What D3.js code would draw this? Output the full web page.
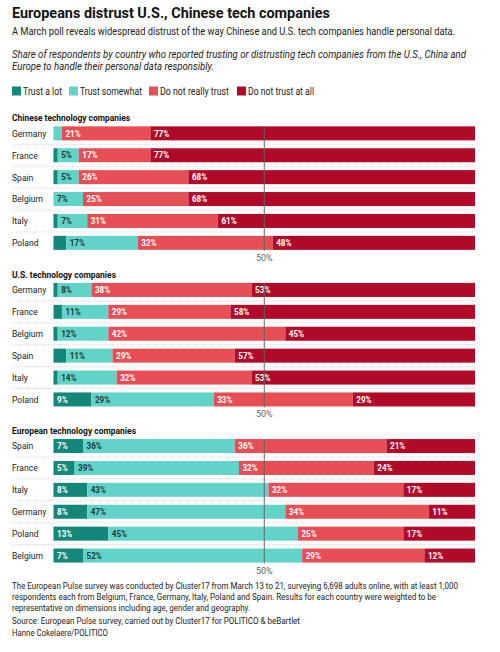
<!DOCTYPE html>
<html>
<head>
<meta charset="utf-8">
<script src="https://cdn.jsdelivr.net/npm/d3@7"></script>
<style>
  body { margin: 0; background: #fff; }
  svg { display: block; font-family: Roboto, "Noto Sans", sans-serif; }
</style>
</head>
<body>
<svg></svg>
<script>
const width = 500;
const height = 652;

// series
const categories = ["Trust a lot", "Trust somewhat", "Do not really trust", "Do not trust at all"];

// Chinese technology companies
const chinaCountries = ["Germany", "France", "Spain", "Belgium", "Italy", "Poland"];
const chinaLot = [0, 1, 1, 0, 1, 3];
const chinaSomewhat = [2, 5, 5, 7, 7, 17];
const chinaNotReally = [21, 17, 26, 25, 31, 32];
const chinaNotAtAll = [77, 77, 68, 68, 61, 48];

// U.S. technology companies
const usCountries = ["Germany", "France", "Belgium", "Spain", "Italy", "Poland"];
const usLot = [1, 2, 1, 3, 1, 9];
const usSomewhat = [8, 11, 12, 11, 14, 29];
const usNotReally = [38, 29, 42, 29, 32, 33];
const usNotAtAll = [53, 58, 45, 57, 53, 29];

// European technology companies
const euCountries = ["Spain", "France", "Italy", "Germany", "Poland", "Belgium"];
const euLot = [7, 5, 8, 8, 13, 7];
const euSomewhat = [36, 39, 43, 47, 45, 52];
const euNotReally = [36, 32, 32, 34, 25, 29];
const euNotAtAll = [21, 24, 17, 11, 17, 12];

const xTicks = [50];

const colors = ["#12877a", "#62d3c8", "#e84f55", "#b10a29"];
const labelColors = ["#fff", "#1d3b38", "#fff", "#fff"];

const panels = [
  { title: "Chinese technology companies", countries: chinaCountries, series: [chinaLot, chinaSomewhat, chinaNotReally, chinaNotAtAll] },
  { title: "U.S. technology companies", countries: usCountries, series: [usLot, usSomewhat, usNotReally, usNotAtAll] },
  { title: "European technology companies", countries: euCountries, series: [euLot, euSomewhat, euNotReally, euNotAtAll] }
];

// the original uses a narrow face, so squeeze the text a bit
function condense(sel, f) {
  sel.each(function() {
    const w = this.getComputedTextLength();
    d3.select(this).attr("textLength", w * f).attr("lengthAdjust", "spacingAndGlyphs");
  });
}
function fit(sel, w) {
  sel.attr("textLength", w).attr("lengthAdjust", "spacingAndGlyphs");
}

const svg = d3.select("svg")
    .attr("width", width)
    .attr("height", height);

const left = 12;

// header
svg.append("text")
    .attr("x", left).attr("y", 17.5)
    .attr("font-size", 15.5).attr("font-weight", "bold").attr("fill", "#111")
    .text("Europeans distrust U.S., Chinese tech companies")
    .call(fit, 318);
svg.append("text")
    .attr("x", left).attr("y", 35)
    .attr("font-size", 10).attr("fill", "#222")
    .text("A March poll reveals widespread distrust of the way Chinese and U.S. tech companies handle personal data.")
    .call(fit, 443);
const intro = [
  "Share of respondents by country who reported trusting or distrusting tech companies from the U.S., China and",
  "Europe to handle their personal data responsibly."
];
const introW = [454, 202];
svg.append("g").selectAll("text")
    .data(intro)
    .join("text")
    .attr("x", left).attr("y", (d, i) => 58 + i * 12)
    .attr("font-size", 10).attr("font-style", "italic").attr("fill", "#222")
    .attr("textLength", (d, i) => introW[i]).attr("lengthAdjust", "spacingAndGlyphs")
    .text(d => d);

// legend
const legendX = [12, 69, 149, 237];
const legendW = [39, 62, 69, 66];
const legend = svg.append("g").selectAll("g")
    .data(categories)
    .join("g")
    .attr("transform", (d, i) => `translate(${legendX[i]}, 86.5)`);
legend.append("rect")
    .attr("width", 9).attr("height", 9)
    .attr("fill", (d, i) => colors[i]);
legend.append("text")
    .attr("x", 11).attr("y", 8)
    .attr("font-size", 10).attr("fill", "#222")
    .attr("textLength", (d, i) => legendW[i]).attr("lengthAdjust", "spacingAndGlyphs")
    .text(d => d);

const xScale = d3.scaleLinear()
    .domain([0, 100])
    .range([53.5, 475]);

const rowStep = 21.9;
const panelTop = [122.4, 279.0, 435.1];
const titleW = [118, 104, 124];

panels.forEach((p, pi) => {
  const top = panelTop[pi];
  const yScale = d3.scaleBand()
      .domain(p.countries)
      .range([top, top + rowStep * p.countries.length])
      .paddingInner(0.36)
      .paddingOuter(0.18);

  const g = svg.append("g");

  g.append("text")
      .attr("x", left).attr("y", top - 1.5)
      .attr("font-size", 9.5).attr("font-weight", "bold").attr("fill", "#111")
      .text(p.title)
      .call(fit, titleW[pi]);

  // dotted separators between rows
  g.selectAll("line.sep")
      .data(p.countries.slice(1))
      .join("line")
      .attr("class", "sep")
      .attr("x1", left).attr("x2", 475)
      .attr("y1", d => yScale(d) - yScale.step() * yScale.paddingInner() / 2)
      .attr("y2", d => yScale(d) - yScale.step() * yScale.paddingInner() / 2)
      .attr("stroke", "#d9d9d9").attr("stroke-dasharray", "1,1");

  g.selectAll("text.country")
      .data(p.countries)
      .join("text")
      .attr("class", "country")
      .attr("x", left)
      .attr("y", d => yScale(d) + yScale.bandwidth() / 2 + 3.4)
      .attr("font-size", 9.5).attr("fill", "#222")
      .text(d => d)
      .call(condense, 0.9);

  const stacked = d3.stack()
      .keys(d3.range(categories.length))
      .value((d, k) => p.series[k][d])(d3.range(p.countries.length));

  stacked.forEach((layer, k) => {
    const lg = g.append("g");
    lg.selectAll("rect")
        .data(layer)
        .join("rect")
        .attr("x", d => xScale(d[0]))
        .attr("width", d => xScale(d[1]) - xScale(d[0]))
        .attr("y", (d, i) => yScale(p.countries[i]))
        .attr("height", yScale.bandwidth())
        .attr("fill", colors[k]);
    lg.selectAll("text")
        .data(layer.filter(d => d[1] - d[0] >= 5))
        .join("text")
        .attr("x", d => xScale(d[0]) + 3.5)
        .attr("y", d => yScale(p.countries[d.data]) + yScale.bandwidth() / 2 + 3.2)
        .attr("font-size", 9).attr("font-weight", "bold")
        .attr("fill", labelColors[k])
        .text(d => (d[1] - d[0]) + "%")
        .call(condense, 0.9);
  });

  // 50% reference line and label
  const y0 = yScale(p.countries[0]);
  const y1 = yScale(p.countries[p.countries.length - 1]) + yScale.bandwidth();
  g.selectAll("line.ref")
      .data(xTicks)
      .join("line")
      .attr("class", "ref")
      .attr("x1", d => xScale(d)).attr("x2", d => xScale(d))
      .attr("y1", y0).attr("y2", y1 + 1)
      .attr("stroke", "#666").attr("stroke-width", 1);
  g.selectAll("text.tick")
      .data(xTicks)
      .join("text")
      .attr("class", "tick")
      .attr("x", d => xScale(d))
      .attr("y", y1 + 11)
      .attr("text-anchor", "middle")
      .attr("font-size", 9).attr("fill", "#666")
      .text(d => d + "%");
});

// footer
const notes = [
  "The European Pulse survey was conducted by Cluster17 from March 13 to 21, surveying 6,698 adults online, with at least 1,000",
  "respondents each from Belgium, France, Germany, Italy, Poland and Spain. Results for each country were weighted to be",
  "representative on dimensions including age, gender and geography.",
  "Source: European Pulse survey, carried out by Cluster17 for POLITICO & beBartlet",
  "Hanne Cokelaere/POLITICO"
];
const noteY = [588.5, 599.8, 611, 623.5, 636];
const noteW = [446, 424, 238, 288, 96];
svg.append("g").selectAll("text")
    .data(notes)
    .join("text")
    .attr("x", left).attr("y", (d, i) => noteY[i])
    .attr("font-size", 9).attr("fill", "#222")
    .attr("textLength", (d, i) => noteW[i]).attr("lengthAdjust", "spacingAndGlyphs")
    .text(d => d);
</script>
</body>
</html>
